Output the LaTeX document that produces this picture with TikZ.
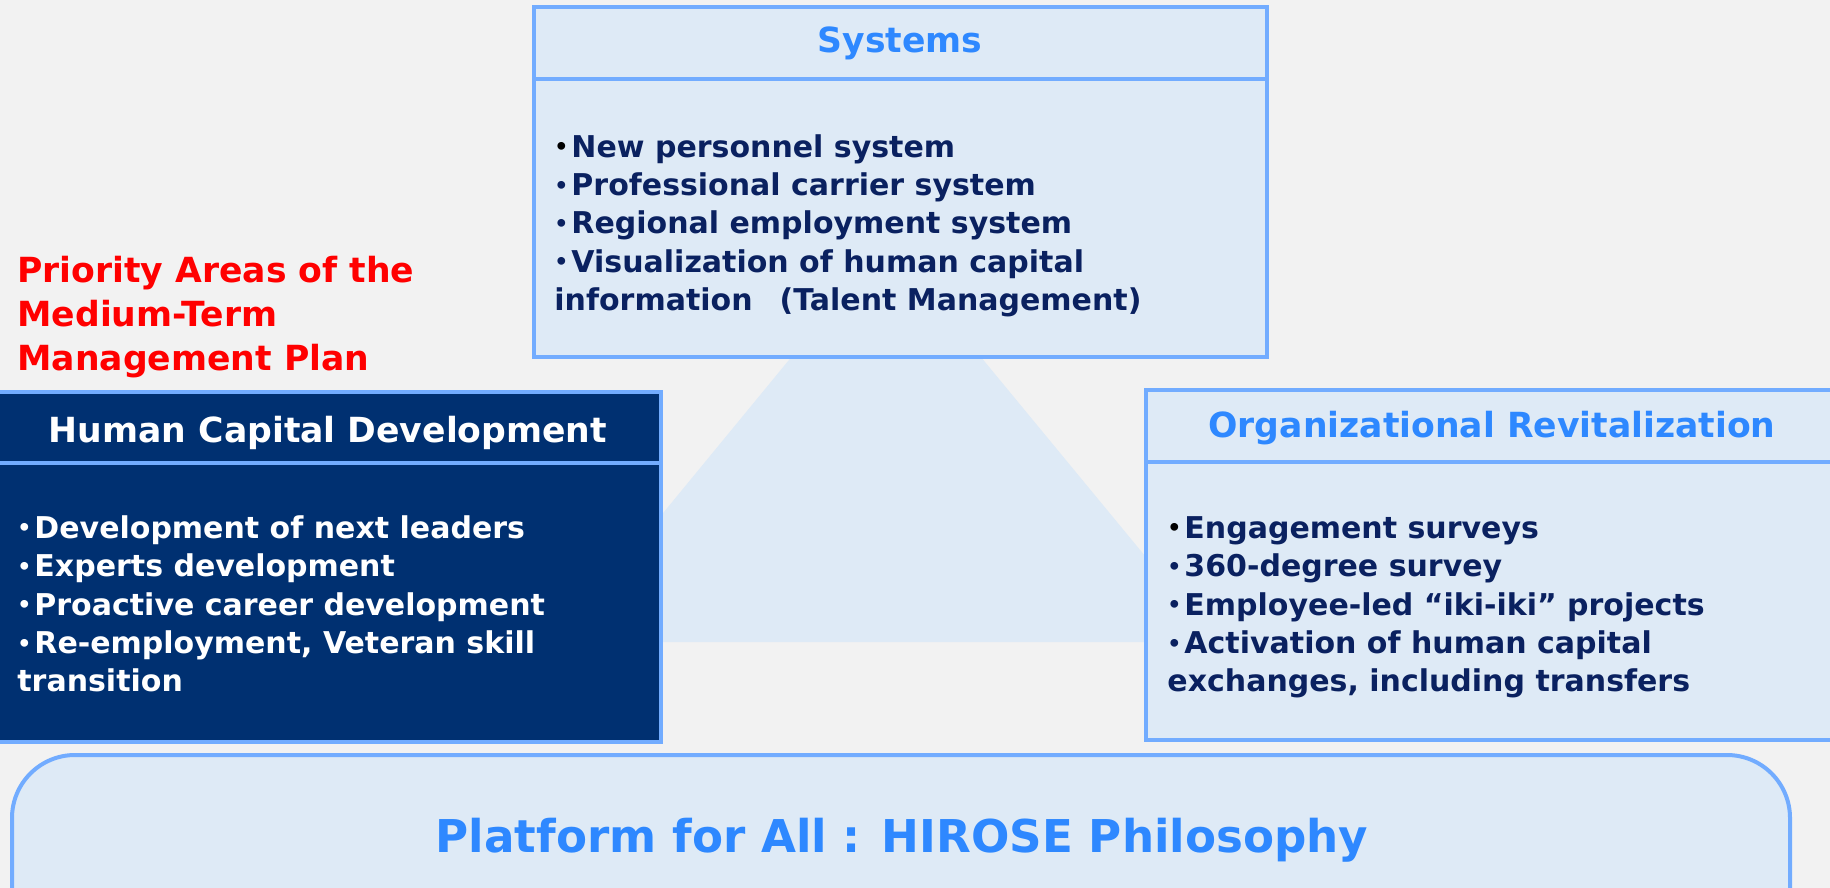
\documentclass[tikz,border=0pt]{standalone}
\usepackage{fontspec}
\setmainfont{DejaVu Sans}
\definecolor{pagegray}{HTML}{F2F2F2}
\definecolor{paleblue}{HTML}{DEEAF6}
\definecolor{edgeblue}{HTML}{72ACFF}
\definecolor{navy}{HTML}{003071}
\definecolor{headblue}{HTML}{2E88FF}
\definecolor{itemnavy}{HTML}{0A2160}
% list dot in front of each entry
\newcommand{\itemdot}{\raisebox{1.2pt}{\fontsize{11pt}{0pt}\selectfont•}\hspace{0.1em}}
\begin{document}
\begin{tikzpicture}[x=0.5pt, y=-0.5pt]
      %% Panel and text styles
      \tikzset
      {
      panel/.style={draw=edgeblue, line width=2pt, fill=paleblue},
      dark panel/.style={panel, fill=navy},
      divider/.style={draw=edgeblue, line width=2pt},
      heading/.style={anchor=base, inner sep=0pt, text=headblue, font=\bfseries\fontsize{17.3pt}{21pt}\selectfont},
      items/.style={anchor=north west, inner sep=0pt, align=left, text=itemnavy, font=\bfseries\fontsize{15pt}{19.2pt}\selectfont},
      }
      %% Page
      \fill[pagegray] (0,0) rectangle (1830,888);
      \useasboundingbox (0,0) rectangle (1830,888);
      %% Pyramid behind the panels
      \fill[paleblue] (886,242) -- (557,642) -- (1216,642) -- cycle;
      %% Plan title
      \node[anchor=north west, inner sep=0pt, align=left, text=red, font=\bfseries\fontsize{17.3pt}{22pt}\selectfont] (plan) at (17,256) {Priority Areas of the\\Medium-Term\\Management Plan};
      %% Systems
      \draw[panel] (534,7) rectangle (1267,357);
      \draw[divider] (534,79) -- (1267,79);
      \node[heading] (systems) at (900,53) {Systems};
      \node[items] (systemsitems) at (554,134) {{\color{black}\itemdot}New personnel system\\\itemdot Professional carrier system\\\itemdot Regional employment system\\\itemdot Visualization of human capital\\information\hspace{0.9em}(Talent Management)};
      %% Human capital development
      \draw[dark panel] (-5,392) rectangle (661,742);
      \draw[divider] (-5,463) -- (661,463);
      \node[heading, text=white] (hcd) at (328,442) {Human Capital Development};
      \node[items, text=white] (hcditems) at (17,515) {\itemdot Development of next leaders\\\itemdot Experts development\\\itemdot Proactive career development\\\itemdot Re-employment, Veteran skill\\transition};
      %% Organizational revitalization
      \draw[panel] (1146,390) rectangle (1838,740);
      \draw[divider] (1146,462) -- (1838,462);
      \node[heading] (org) at (1492,437) {Organizational Revitalization};
      \node[items] (orgitems) at (1167,516) {{\color{black}\itemdot}Engagement surveys\\\itemdot 360-degree survey\\\itemdot Employee-led “iki-iki” projects\\\itemdot Activation of human capital\\exchanges, including transfers};
      %% Platform
      \draw[panel, rounded corners=31.5pt] (12,755) rectangle (1790,960);
      \node[heading, font=\bfseries\fontsize{22.6pt}{27pt}\selectfont] (platform) at (902,852) {Platform for All : HIROSE Philosophy};
   \end{tikzpicture}
\end{document}
